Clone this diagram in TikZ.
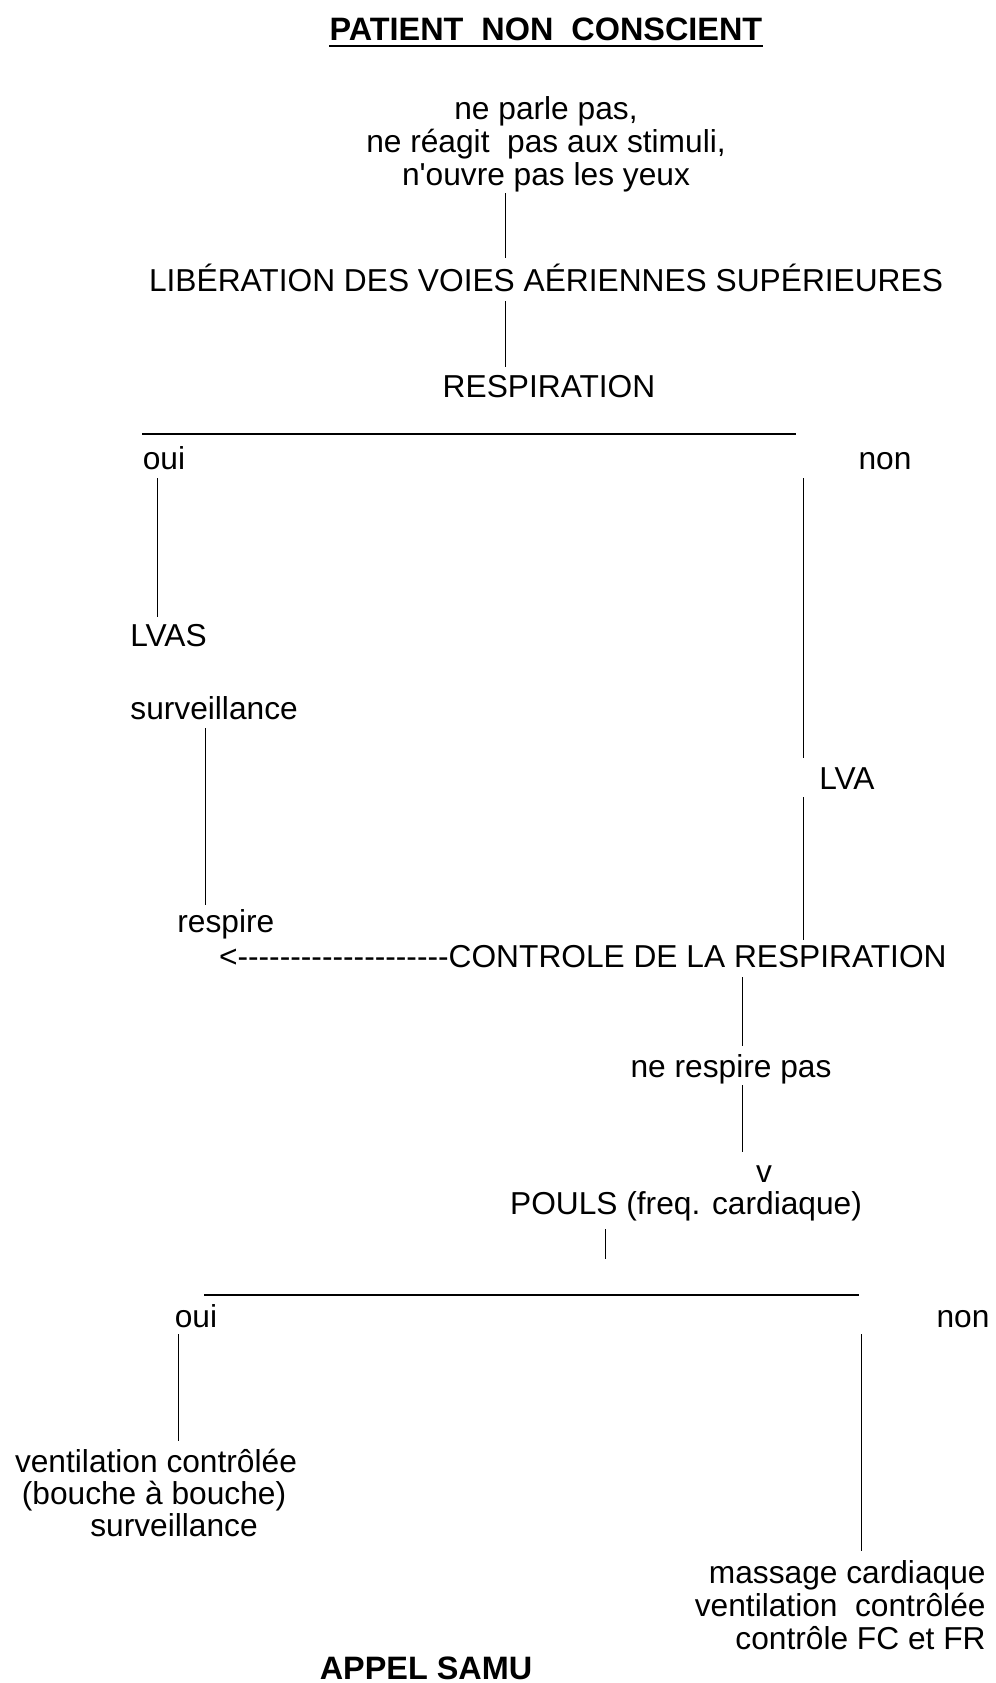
\documentclass[tikz,border=0pt]{standalone}
\usepackage{fontspec}
\setmainfont{Liberation Sans}[Ligatures=TeXOff]
\tikzset{
  txt/.style={inner sep=0pt, anchor=base, font=\fontsize{15.85}{16.5}\selectfont},
  txtl/.style={txt, anchor=base west},
  txtr/.style={txt, anchor=base east},
  ttl/.style={txt, font=\fontsize{16.2}{16.5}\selectfont\bfseries},
  conn/.style={line width=0.5pt, black},
  bar/.style={line width=1pt, black},
  uline/.style={line width=1.3pt, black}
}
\begin{document}
\begin{tikzpicture}[x=0.5pt,y=-0.5pt]
\fill[white] (0,0) rectangle (996,1683);
\useasboundingbox (0,0) rectangle (996,1683);

% title
\node[ttl] (title) at (546,40) {PATIENT~ NON~ CONSCIENT};
\draw[uline] ([yshift=-3pt]title.base west) -- ([yshift=-3pt]title.base east);

% symptoms
\node[txt] (sym1) at (546,119) {ne parle pas,};
\node[txt] (sym2) at (546,152) {ne réagit~ pas aux stimuli,};
\node[txt] (sym3) at (546,185) {n'ouvre pas les yeux};

\coordinate (a1) at (505,193); \coordinate (a2) at (505,258);
\draw[conn] (a1) -- (a2);

\node[txt] (lib) at (546,291) {LIBÉRATION DES VOIES AÉRIENNES SUPÉRIEURES};

\coordinate (b1) at (505,301); \coordinate (b2) at (505,367);
\draw[conn] (b1) -- (b2);

\node[txt] (resp) at (549,397) {RESPIRATION};

\coordinate (h1a) at (142,434); \coordinate (h1b) at (796,434);
\draw[bar] (h1a) -- (h1b);

\node[txt] (oui1) at (164,469) {oui};
\node[txt] (non1) at (885,469) {non};

\coordinate (c1) at (157,478); \coordinate (c2) at (157,617);
\draw[conn] (c1) -- (c2);
\node[txtl] (lvas) at (130,646) {LVAS};
\node[txtl] (surv1) at (130,719) {surveillance};
\coordinate (d1) at (205,728); \coordinate (d2) at (205,905);
\draw[conn] (d1) -- (d2);
\node[txtl] (resp2) at (177,932) {respire};

\coordinate (e1) at (803,478); \coordinate (e2) at (803,758);
\draw[conn] (e1) -- (e2);
\node[txtl] (lva) at (819,789) {LVA};
\coordinate (f1) at (803,797); \coordinate (f2) at (803,940);
\draw[conn] (f1) -- (f2);

\node[txtr] (ctrl) at (947,967) {<--------------------CONTROLE DE LA RESPIRATION};

\coordinate (g1) at (742,977); \coordinate (g2) at (742,1046);
\draw[conn] (g1) -- (g2);
\node[txt] (nrp) at (731,1077) {ne respire pas};
\coordinate (k1) at (742,1085); \coordinate (k2) at (742,1152);
\draw[conn] (k1) -- (k2);
\node[txt] (vv) at (764,1182) {v};
\node[txt] (pouls) at (686,1214) {POULS (freq. cardiaque)};
\coordinate (m1) at (605,1229); \coordinate (m2) at (605,1259);
\draw[conn] (m1) -- (m2);

\coordinate (h2a) at (204,1295); \coordinate (h2b) at (859,1295);
\draw[bar] (h2a) -- (h2b);

\node[txt] (oui2) at (196,1327) {oui};
\node[txt] (non2) at (963,1327) {non};

\coordinate (n1) at (178,1334); \coordinate (n2) at (178,1441);
\draw[conn] (n1) -- (n2);
\node[txt] (vc1) at (156,1472) {ventilation contrôlée};
\node[txt] (vc2) at (154,1504) {(bouche à bouche)};
\node[txt] (vc3) at (174,1536) {surveillance};

\coordinate (p1) at (861,1334); \coordinate (p2) at (861,1551);
\draw[conn] (p1) -- (p2);
\node[txtr] (mc1) at (986,1583) {massage cardiaque};
\node[txtr] (mc2) at (986,1616) {ventilation~ contrôlée};
\node[txtr] (mc3) at (986,1649) {contrôle FC et FR};

\node[ttl] (samu) at (426,1679) {APPEL SAMU};
\end{tikzpicture}
\end{document}
